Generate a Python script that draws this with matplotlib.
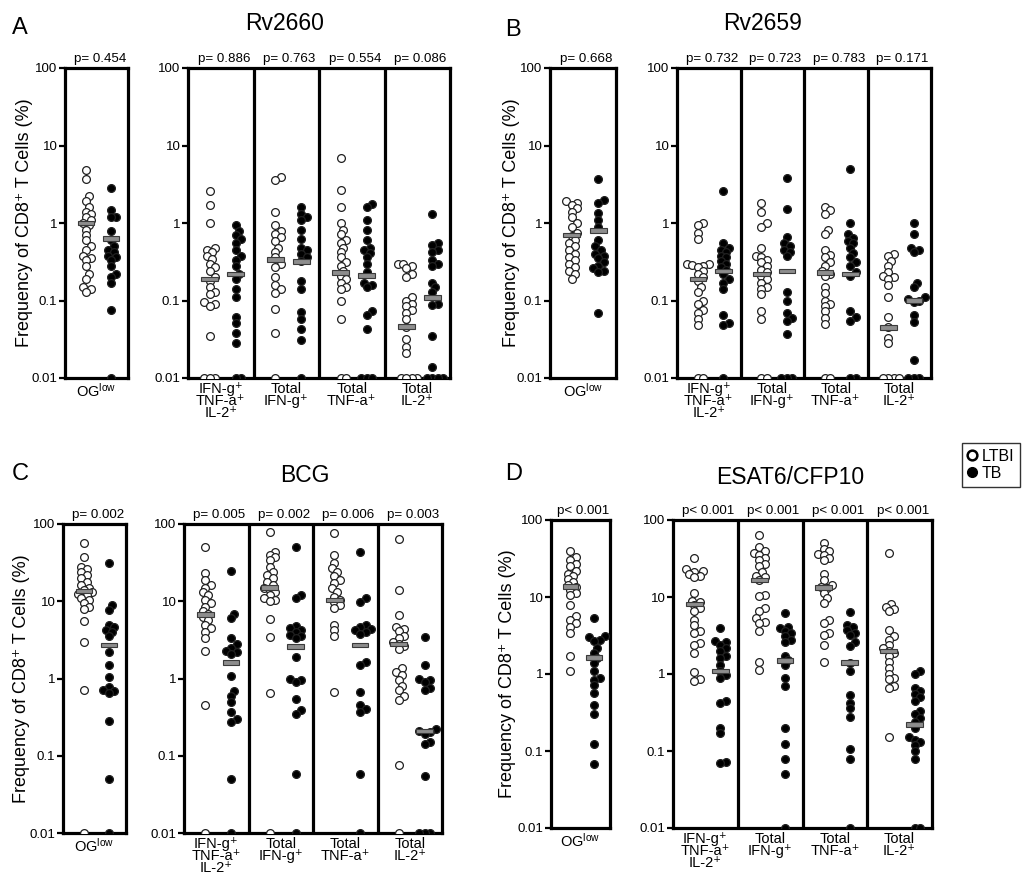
import numpy as np
import matplotlib
matplotlib.use('Agg')
import matplotlib.pyplot as plt
from matplotlib.patches import Rectangle
from matplotlib.lines import Line2D
from matplotlib.ticker import FixedLocator, NullLocator, FixedFormatter
import matplotlib.transforms as mtrans

plt.rcParams['font.family'] = ['Liberation Sans', 'DejaVu Sans']
plt.rcParams['mathtext.fontset'] = 'custom'
plt.rcParams['mathtext.rm'] = 'Liberation Sans'
plt.rcParams['mathtext.it'] = 'Liberation Sans:italic'

# ---------------- data ----------------
categories = ["OG$^{\\rm low}$", "IFN-g⁺\nTNF-a⁺\nIL-2⁺", "Total\nIFN-g⁺", "Total\nTNF-a⁺", "Total\nIL-2⁺"]
ytick_vals = [0.01, 0.1, 1, 10, 100]
ytick_labels = ["0.01", "0.1", "1", "10", "100"]
ylabel = "Frequency of CD8⁺ T Cells (%)"
legend_labels = ["LTBI", "TB"]

# Panel A: Rv2660
a_title = "Rv2660"
a_p = ["p= 0.454", "p= 0.886", "p= 0.763", "p= 0.554", "p= 0.086"]
a_ltbi = [
    [4.8, 3.7, 2.2, 1.9, 1.6, 1.4, 1.3, 1.2, 1.1, 1.0, 0.95, 0.82, 0.7, 0.6, 0.5, 0.45, 0.38, 0.35, 0.33, 0.28, 0.22, 0.19, 0.15, 0.14, 0.13],
    [2.6, 1.7, 1.0, 0.48, 0.45, 0.42, 0.38, 0.34, 0.3, 0.27, 0.24, 0.2, 0.18, 0.15, 0.13, 0.12, 0.095, 0.09, 0.085, 0.035, 0.01, 0.01, 0.01],
    [3.9, 3.6, 1.4, 0.95, 0.8, 0.72, 0.65, 0.58, 0.48, 0.42, 0.36, 0.3, 0.27, 0.2, 0.16, 0.14, 0.125, 0.077, 0.038, 0.01],
    [7.0, 2.7, 1.6, 1.0, 0.82, 0.72, 0.6, 0.55, 0.48, 0.42, 0.36, 0.31, 0.28, 0.24, 0.21, 0.19, 0.17, 0.15, 0.14, 0.1, 0.058, 0.01, 0.01],
    [0.3, 0.3, 0.28, 0.26, 0.22, 0.2, 0.11, 0.1, 0.09, 0.085, 0.075, 0.07, 0.057, 0.045, 0.032, 0.025, 0.021, 0.01, 0.01, 0.01, 0.01],
]
a_tb = [
    [2.85, 1.45, 1.2, 1.2, 0.8, 0.6, 0.5, 0.45, 0.42, 0.38, 0.36, 0.33, 0.28, 0.22, 0.2, 0.17, 0.075, 0.01],
    [0.95, 0.8, 0.7, 0.62, 0.55, 0.45, 0.37, 0.33, 0.28, 0.22, 0.19, 0.14, 0.11, 0.062, 0.052, 0.038, 0.028, 0.01, 0.01],
    [1.6, 1.3, 1.2, 1.1, 0.82, 0.62, 0.48, 0.45, 0.4, 0.36, 0.32, 0.18, 0.14, 0.072, 0.058, 0.043, 0.031, 0.01],
    [1.75, 1.6, 1.1, 0.82, 0.6, 0.48, 0.45, 0.41, 0.36, 0.3, 0.23, 0.17, 0.16, 0.15, 0.073, 0.065, 0.043, 0.01, 0.01, 0.01],
    [1.3, 0.55, 0.52, 0.45, 0.42, 0.33, 0.3, 0.28, 0.17, 0.15, 0.13, 0.09, 0.088, 0.035, 0.014, 0.01, 0.01, 0.01, 0.01],
]
a_ltbi_med = [1.0, 0.19, 0.34, 0.23, 0.046]
a_tb_med = [0.63, 0.22, 0.32, 0.21, 0.11]

# Panel B: Rv2659
b_title = "Rv2659"
b_p = ["p= 0.668", "p= 0.732", "p= 0.723", "p= 0.783", "p= 0.171"]
b_ltbi = [
    [1.9, 1.8, 1.7, 1.55, 1.4, 1.2, 1.0, 0.9, 0.75, 0.68, 0.6, 0.55, 0.5, 0.45, 0.4, 0.36, 0.33, 0.3, 0.27, 0.24, 0.22, 0.19],
    [1.0, 0.95, 0.75, 0.62, 0.3, 0.3, 0.29, 0.28, 0.27, 0.24, 0.22, 0.2, 0.18, 0.15, 0.13, 0.1, 0.09, 0.075, 0.07, 0.058, 0.048, 0.01, 0.01],
    [1.8, 1.4, 1.0, 0.9, 0.48, 0.38, 0.36, 0.33, 0.31, 0.28, 0.25, 0.23, 0.21, 0.19, 0.17, 0.15, 0.14, 0.12, 0.073, 0.057, 0.01, 0.01],
    [1.6, 1.45, 1.3, 0.82, 0.72, 0.45, 0.39, 0.36, 0.31, 0.28, 0.24, 0.22, 0.21, 0.15, 0.125, 0.1, 0.09, 0.085, 0.073, 0.06, 0.05, 0.01, 0.01],
    [0.4, 0.37, 0.32, 0.28, 0.23, 0.21, 0.2, 0.19, 0.16, 0.11, 0.062, 0.045, 0.033, 0.028, 0.01, 0.01, 0.01, 0.01],
]
b_tb = [
    [3.7, 2.0, 1.8, 1.35, 1.1, 0.9, 0.6, 0.5, 0.45, 0.4, 0.37, 0.35, 0.31, 0.28, 0.26, 0.24, 0.23, 0.07],
    [2.6, 0.55, 0.48, 0.45, 0.42, 0.38, 0.36, 0.32, 0.3, 0.27, 0.25, 0.22, 0.19, 0.17, 0.14, 0.065, 0.052, 0.048, 0.01],
    [3.8, 1.5, 0.65, 0.55, 0.5, 0.45, 0.42, 0.37, 0.13, 0.1, 0.07, 0.06, 0.055, 0.037, 0.01, 0.01, 0.01],
    [5.0, 1.0, 0.72, 0.64, 0.58, 0.55, 0.48, 0.41, 0.36, 0.31, 0.28, 0.23, 0.21, 0.073, 0.062, 0.055, 0.01, 0.01],
    [1.0, 0.72, 0.48, 0.45, 0.42, 0.17, 0.15, 0.11, 0.105, 0.1, 0.095, 0.065, 0.053, 0.017, 0.01, 0.01, 0.01],
]
b_ltbi_med = [0.7, 0.19, 0.22, 0.23, 0.045]
b_tb_med = [0.8, 0.24, 0.24, 0.22, 0.1]

# Panel C: BCG
c_title = "BCG"
c_p = ["p= 0.002", "p= 0.005", "p= 0.002", "p= 0.006", "p= 0.003"]
c_ltbi = [
    [57, 37, 28, 26, 24, 22, 20, 18, 16, 15, 14, 13, 12.5, 12, 11, 10.5, 9.5, 8.5, 8.0, 5.6, 3.0, 0.7, 0.01],
    [51, 23, 19, 16, 15, 13, 12, 10.5, 9.5, 8.5, 7.5, 6.8, 6.2, 5.7, 5.0, 4.5, 4.0, 3.3, 2.3, 0.46, 0.01],
    [79, 44, 40, 37, 34, 28, 24, 22, 20, 18, 16, 15, 14, 13.3, 12, 11, 10.5, 10, 5.9, 3.4, 0.65, 0.01],
    [77, 40, 31, 27, 24, 21, 19, 17, 14.7, 13.3, 11.5, 10.5, 9.8, 8.9, 8.1, 4.9, 4.2, 3.6, 0.67],
    [64, 14, 6.7, 4.7, 4.4, 4.1, 3.6, 3.3, 3.0, 2.8, 2.6, 2.4, 1.35, 1.2, 1.1, 0.95, 0.8, 0.7, 0.6, 0.53, 0.077, 0.01],
]
c_tb = [
    [31, 8.9, 7.8, 5.0, 4.6, 4.3, 4.0, 3.5, 2.2, 1.5, 1.05, 0.78, 0.72, 0.68, 0.64, 0.28, 0.05, 0.01],
    [25, 6.9, 6.0, 3.3, 2.8, 2.5, 2.3, 2.2, 2.1, 1.07, 0.68, 0.6, 0.5, 0.37, 0.3, 0.27, 0.05, 0.01],
    [50, 12, 11, 4.8, 4.5, 4.2, 4.0, 3.7, 3.5, 3.3, 1.9, 1.0, 0.95, 0.9, 0.55, 0.39, 0.35, 0.058, 0.01],
    [44, 11, 9.9, 5.0, 4.7, 4.4, 4.2, 4.0, 3.8, 1.65, 1.5, 0.67, 0.46, 0.4, 0.37, 0.058, 0.01],
    [3.4, 1.5, 1.0, 0.95, 0.9, 0.75, 0.71, 0.22, 0.21, 0.2, 0.19, 0.15, 0.14, 0.055, 0.01, 0.01, 0.01],
]
c_ltbi_med = [13.5, 6.7, 15, 10.4, 2.8]
c_tb_med = [2.7, 1.6, 2.6, 2.7, 0.21]

# Panel D: ESAT6/CFP10
d_title = "ESAT6/CFP10"
d_p = ["p< 0.001", "p< 0.001", "p< 0.001", "p< 0.001", "p< 0.001"]
d_ltbi = [
    [40, 33, 30, 27, 25, 22, 20, 19, 17, 15.5, 14.5, 13.5, 12.5, 11.2, 10.6, 7.9, 5.6, 5.0, 4.6, 4.1, 3.4, 1.7, 1.1],
    [32, 23, 22, 21, 20, 19, 18, 11.2, 9, 8.5, 7.9, 7.1, 6.5, 5.0, 4.3, 3.6, 3.4, 2.5, 2.4, 1.9, 1.05, 0.85, 0.8],
    [63, 44, 39, 37, 35, 32, 30, 27, 25, 21, 19, 18, 16.5, 10.6, 10.2, 7.2, 6.5, 5.3, 4.8, 4.6, 3.6, 1.45, 1.13],
    [50, 42, 39, 36, 35, 32, 30, 20, 16.7, 14.4, 13.5, 13, 11.2, 9.6, 8.3, 5.0, 4.6, 3.4, 3.2, 2.4, 1.45],
    [37, 8.0, 7.5, 7.0, 6.5, 3.7, 3.1, 2.8, 2.4, 2.2, 2.0, 1.9, 1.7, 1.45, 1.2, 1.0, 0.9, 0.85, 0.7, 0.66, 0.15],
]
d_tb = [
    [5.3, 3.1, 3.0, 2.8, 2.7, 2.2, 1.9, 1.6, 1.4, 1.1, 0.88, 0.84, 0.72, 0.56, 0.4, 0.3, 0.125, 0.067],
    [3.9, 2.7, 2.6, 2.4, 2.2, 2.0, 1.7, 1.6, 1.3, 1.1, 0.98, 0.9, 0.44, 0.42, 0.2, 0.17, 0.073, 0.07],
    [6.2, 4.1, 3.9, 3.6, 3.4, 3.1, 2.8, 2.6, 1.7, 1.5, 1.3, 0.89, 0.7, 0.2, 0.124, 0.078, 0.051, 0.01],
    [6.3, 4.3, 4.1, 3.7, 3.4, 3.2, 2.6, 2.3, 1.4, 1.1, 0.53, 0.42, 0.36, 0.28, 0.105, 0.078, 0.01],
    [1.1, 1.0, 0.66, 0.6, 0.55, 0.5, 0.45, 0.33, 0.3, 0.27, 0.24, 0.2, 0.15, 0.14, 0.13, 0.12, 0.1, 0.078, 0.01, 0.01],
]
d_ltbi_med = [13.7, 8.1, 16.7, 13.3, 2.0]
d_tb_med = [1.65, 1.1, 1.5, 1.4, 0.22]

# ---------------- layout ----------------
W, H = 1029, 877
fig = plt.figure(figsize=(W / 100, H / 100), dpi=100)
fig.patch.set_facecolor('white')


def add_ax(x0, y0, x1, y1):
    return fig.add_axes([x0 / W, 1 - y1 / H, (x1 - x0) / W, (y1 - y0) / H])


OFF_L, OFF_T = -0.17, 0.23
MS = 5.6
SPINE_LW = 2.3


def swarm_x(ax, xc, vals, d=5.0, maxoff=11.0):
    vals = np.asarray(vals, float)
    disp = ax.transData.transform(np.column_stack([np.full(len(vals), xc), vals]))
    x0 = disp[0, 0]
    ys = disp[:, 1]
    order = np.argsort(ys)
    placed = []
    xs = np.empty(len(vals))
    step = d * 0.55
    for i in order:
        y = ys[i]
        best = x0
        for k in range(40):
            m = (k + 1) // 2
            cand = x0 + (m * step if k % 2 == 1 else -m * step)
            if abs(cand - x0) > maxoff:
                break
            if all((cand - px) ** 2 + (y - py) ** 2 >= d * d for px, py in placed):
                best = cand
                break
        placed.append((best, y))
        xs[i] = best
    data = ax.transData.inverted().transform(np.column_stack([xs, ys]))
    return data[:, 0]


def style(ax, ncat, labels):
    ax.set_yscale('log')
    ax.set_ylim(0.01, 100)
    ax.set_xlim(-0.5, ncat - 0.5)
    ax.yaxis.set_major_locator(FixedLocator(ytick_vals))
    ax.yaxis.set_major_formatter(FixedFormatter(ytick_labels))
    ax.yaxis.set_minor_locator(NullLocator())
    for s in ax.spines.values():
        s.set_linewidth(SPINE_LW)
    ax.tick_params(axis='y', which='major', length=4.5, width=1.6, labelsize=9.5, pad=1, direction='out')
    ax.set_xticks(range(ncat))
    ax.set_xticklabels(labels, fontsize=10.5, linespacing=0.8, va='top')
    ax.tick_params(axis='x', length=0, pad=3)
    for i in range(1, ncat):
        ax.axvline(i - 0.5, color='black', lw=SPINE_LW, zorder=5)


def draw_groups(ax, ltbi, tb, lmed, tmed, pvals):
    dec_px = ax.bbox.height / 4.0
    hh = 2.3 / dec_px
    for i in range(len(ltbi)):
        for vals, off, fc, med in ((ltbi[i], OFF_L, 'white', lmed[i]), (tb[i], OFF_T, 'black', tmed[i])):
            xc = i + off
            xs = swarm_x(ax, xc, vals)
            ax.plot(xs, vals, 'o', ms=MS, mfc=fc, mec='#202020', mew=0.9, ls='none', zorder=3)
            ax.add_patch(Rectangle((xc - 0.13, med * 10 ** (-hh)), 0.26, med * (10 ** hh - 10 ** (-hh)),
                                   facecolor='#8d8d8d', edgecolor='#3a3a3a', lw=0.8, zorder=4))
        tr = mtrans.offset_copy(ax.get_xaxis_transform(), fig=fig, y=2, units='points')
        ax.text(i + 0.05, 1.0, pvals[i], transform=tr, ha='center', va='bottom', fontsize=9.6)


panels = [
    dict(letter='A', letter_xy=(12, 28), title=a_title, title_xy=(285, 24), left=(65, 68, 128, 378), right=(188, 68, 450, 378),
         ylab_x=25, ltbi=a_ltbi, tb=a_tb, lmed=a_ltbi_med, tmed=a_tb_med, p=a_p),
    dict(letter='B', letter_xy=(505, 30), title=b_title, title_xy=(763, 24), left=(550, 68, 616, 378), right=(677, 68, 931, 378),
         ylab_x=512, ltbi=b_ltbi, tb=b_tb, lmed=b_ltbi_med, tmed=b_tb_med, p=b_p),
    dict(letter='C', letter_xy=(12, 474), title=c_title, title_xy=(305, 476), left=(63, 524, 126, 833), right=(184, 524, 442, 833),
         ylab_x=22, ltbi=c_ltbi, tb=c_tb, lmed=c_ltbi_med, tmed=c_tb_med, p=c_p),
    dict(letter='D', letter_xy=(505, 474), title=d_title, title_xy=(790, 477), left=(551, 520, 610, 828), right=(673, 520, 932, 828),
         ylab_x=508, ltbi=d_ltbi, tb=d_tb, lmed=d_ltbi_med, tmed=d_tb_med, p=d_p),
]

for P in panels:
    axl = add_ax(*P['left'])
    style(axl, 1, categories[:1])
    draw_groups(axl, P['ltbi'][:1], P['tb'][:1], P['lmed'][:1], P['tmed'][:1], P['p'][:1])
    axr = add_ax(*P['right'])
    style(axr, 4, categories[1:])
    draw_groups(axr, P['ltbi'][1:], P['tb'][1:], P['lmed'][1:], P['tmed'][1:], P['p'][1:])
    lx, ly = P['letter_xy']
    fig.text(lx / W, 1 - ly / H, P['letter'], fontsize=17, ha='left', va='center')
    tx, ty = P['title_xy']
    fig.text(tx / W, 1 - ty / H, P['title'], fontsize=16.5, ha='center', va='center')
    y0, y1 = P['left'][1], P['left'][3]
    fig.text(P['ylab_x'] / W, 1 - (y0 + y1) / 2 / H, ylabel, rotation=90, fontsize=13, ha='center', va='center')

handles = [Line2D([], [], marker='o', ls='none', ms=7, mfc='white', mec='black', mew=1.8),
           Line2D([], [], marker='o', ls='none', ms=7, mfc='black', mec='black')]
leg = fig.legend(handles, legend_labels, loc='upper left', bbox_to_anchor=(962 / W, 1 - 443 / H),
                 frameon=True, fancybox=False, fontsize=11.5, handlelength=0.6, handletextpad=0.3,
                 borderpad=0.35, labelspacing=0.15, borderaxespad=0)
leg.get_frame().set_edgecolor('black')
leg.get_frame().set_linewidth(1.0)

fig.savefig('out.png', dpi=100, facecolor='white')
